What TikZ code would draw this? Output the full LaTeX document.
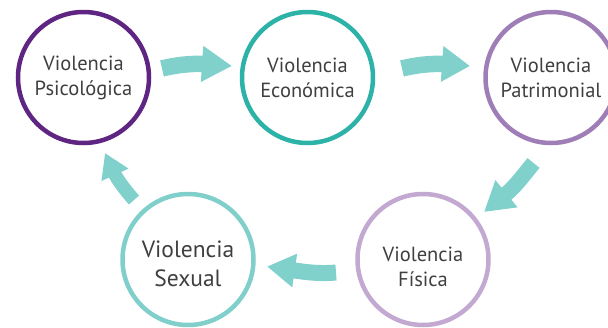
\documentclass[tikz,border=0pt]{standalone}
\usepackage{fontspec}
\setmainfont{PT Sans}
\usetikzlibrary{arrows.meta}
\definecolor{cPsi}{HTML}{5F2582}
\definecolor{cEco}{HTML}{2DB2A7}
\definecolor{cPat}{HTML}{9F7DB6}
\definecolor{cFis}{HTML}{C3A9D1}
\definecolor{cSex}{HTML}{80CFCB}
\definecolor{cArr}{HTML}{80D0CC}
\definecolor{cTxt}{HTML}{3F3F3F}
\tikzset{
  ring/.style={circle, draw=#1, line width=4.5pt, minimum size=131pt, inner sep=0pt},
  lbl/.style={align=center, text=cTxt, font=\fontsize{20.5}{25}\selectfont},
  biglbl/.style={align=center, text=cTxt, font=\fontsize{23.5}{29}\selectfont},
  bigarrow/.style={draw=cArr, line width=#1, line cap=butt},
}
\begin{document}
\begin{tikzpicture}[x=1pt,y=-1pt]
\useasboundingbox (0,0) rectangle (608,327);
% circles
\node[ring=cPsi] (c1) at (83.5,77.5) {};
\node[ring=cEco] (c2) at (307.5,77.5) {};
\node[ring=cPat] (c3) at (551,77.5) {};
\node[ring=cFis] (c4) at (423,259.5) {};
\node[ring=cSex] (c5) at (188,259.5) {};
% labels
\node[lbl] (t1) at (c1) {Violencia\\Psicológica};
\node[lbl] (t2) at (c2) {Violencia\\Económica};
\node[lbl] (t3) at (c3) {Violencia\\Patrimonial};
\node[lbl] (t4) at ([yshift=-7pt]c4.center) {Violencia\\Física};
\node[biglbl] (t5) at ([yshift=-4pt]c5.center) {Violencia\\Sexual};
% arrow end points
\coordinate (a1s) at (162,68.5);
\coordinate (a1e) at (232,66);
\coordinate (a2s) at (402,68.5);
\coordinate (a2e) at (470,66);
\coordinate (a3s) at (533.5,163);
\coordinate (a3e) at (484,212);
\coordinate (a4s) at (336,272.5);
\coordinate (a4e) at (267,266.5);
\coordinate (a5s) at (134,200);
\coordinate (a5e) at (105,153);
% arrows
\draw[bigarrow=16.5pt, -{Triangle[width=34pt,length=30pt]}]
  (a1s) .. controls (180,64) and (196,63.5) .. (a1e);
\draw[bigarrow=16.5pt, -{Triangle[width=34pt,length=28pt]}]
  (a2s) .. controls (420,64) and (436,63.5) .. (a2e);
\draw[bigarrow=15.5pt, -{Triangle[width=33pt,length=29pt]}]
  (a3s) .. controls (526,172) and (516,186) .. (a3e);
\draw[bigarrow=16pt, -{Triangle[width=32pt,length=28pt]}]
  (a4s) .. controls (318,274) and (305,272) .. (a4e);
\draw[bigarrow=13.5pt, -{Triangle[width=28pt,length=24pt]}]
  (a5s) .. controls (124,189) and (116,177) .. (a5e);
\end{tikzpicture}
\end{document}
